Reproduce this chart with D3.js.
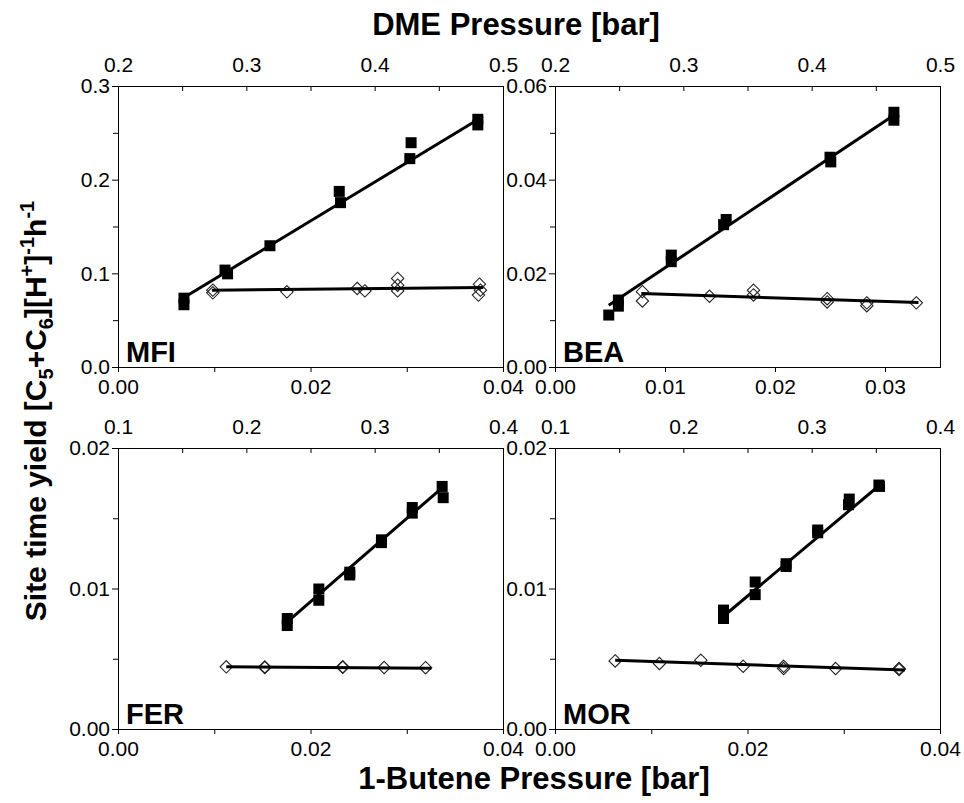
<!DOCTYPE html>
<html>
<head>
<meta charset="utf-8">
<script src="https://cdn.jsdelivr.net/npm/d3@7"></script>
<style>
  body { margin: 0; background: #fff; }
  svg { display: block; }
  text { font-family: "Liberation Sans", Arial, Helvetica, sans-serif; }
</style>
</head>
<body>
<svg id="chart" width="964" height="803"></svg>
<script>
// ---- Panels and axes ----
const panelNames = ["MFI", "BEA", "FER", "MOR"];

const dmeDomains = [[0.2, 0.5], [0.2, 0.5], [0.1, 0.4], [0.1, 0.4]];
const dmeTicks = [[0.2, 0.3, 0.4, 0.5], [0.2, 0.3, 0.4, 0.5], [0.1, 0.2, 0.3, 0.4], [0.1, 0.2, 0.3, 0.4]];
const dmeMinorTicks = [[0.25, 0.35, 0.45], [0.25, 0.35, 0.45], [0.15, 0.25, 0.35], [0.15, 0.25, 0.35]];

const buteneDomains = [[0, 0.04], [0, 0.035], [0, 0.04], [0, 0.04]];
const buteneTicks = [[0, 0.02, 0.04], [0, 0.01, 0.02, 0.03], [0, 0.02, 0.04], [0, 0.02, 0.04]];
const buteneMinorTicks = [[0.01, 0.03], [], [0.01, 0.03], [0.01, 0.03]];

const yieldDomains = [[0, 0.3], [0, 0.06], [0, 0.02], [0, 0.02]];
const yieldTicks = [[0, 0.1, 0.2, 0.3], [0, 0.02, 0.04, 0.06], [0, 0.01, 0.02], [0, 0.01, 0.02]];
const yieldMinorTicks = [[0.05, 0.15, 0.25], [0.01, 0.03, 0.05], [0.005, 0.015], [0.005, 0.015]];
const yieldFormats = [".1f", ".2f", ".2f", ".2f"];

// ---- Site time yield vs DME pressure (filled squares) ----
const mfiDme      = [0.251, 0.251, 0.283, 0.285, 0.318, 0.372, 0.373, 0.428, 0.427, 0.480, 0.480];
const mfiDmeYield = [0.074, 0.067, 0.104, 0.100, 0.130, 0.188, 0.176, 0.240, 0.223, 0.265, 0.259];
const beaDme      = [0.2415, 0.249, 0.249, 0.2902, 0.2902, 0.333, 0.331, 0.4139, 0.4145, 0.4637, 0.4637];
const beaDmeYield = [0.0112, 0.0144, 0.0131, 0.0240, 0.0226, 0.0316, 0.0305, 0.0449, 0.0439, 0.0545, 0.0528];
const ferDme      = [0.2315, 0.2315, 0.2561, 0.2561, 0.2802, 0.2802, 0.3049, 0.3049, 0.3289, 0.3289, 0.3522, 0.3530];
const ferDmeYield = [0.0079, 0.0074, 0.0100, 0.0092, 0.0112, 0.0110, 0.0135, 0.0133, 0.0158, 0.0154, 0.0173, 0.0165];
const morDme      = [0.2309, 0.2309, 0.2556, 0.2556, 0.2797, 0.2797, 0.3043, 0.3043, 0.3289, 0.3283, 0.3520, 0.3525];
const morDmeYield = [0.0085, 0.0079, 0.0105, 0.0096, 0.0118, 0.0116, 0.0142, 0.0140, 0.0164, 0.0160, 0.0174, 0.0173];

// Linear fits vs DME pressure (end points)
const mfiDmeFit = [[0.252, 0.0755], [0.484, 0.268]];
const beaDmeFit = [[0.2415, 0.0133], [0.4645, 0.0540]];
const ferDmeFit = [[0.2315, 0.00766], [0.3515, 0.01715]];
const morDmeFit = [[0.2309, 0.00806], [0.3541, 0.01751]];

// ---- Site time yield vs 1-butene pressure (open diamonds) ----
const mfiButene      = [0.0098, 0.0098, 0.0175, 0.0248, 0.0256, 0.0290, 0.0290, 0.0290, 0.0375, 0.0376, 0.0374];
const mfiButeneYield = [0.0826, 0.0797, 0.0808, 0.0844, 0.0818, 0.0951, 0.0879, 0.0818, 0.0890, 0.0826, 0.0773];
const beaButene      = [0.0079, 0.0079, 0.0140, 0.0180, 0.0180, 0.0247, 0.0247, 0.0283, 0.0283, 0.0328];
const beaButeneYield = [0.0162, 0.0142, 0.0152, 0.0165, 0.0155, 0.0147, 0.0140, 0.0138, 0.0132, 0.0138];
const ferButene      = [0.0112, 0.0152, 0.0152, 0.0233, 0.0233, 0.0276, 0.0319];
const ferButeneYield = [0.00446, 0.00441, 0.00445, 0.00446, 0.00443, 0.00441, 0.00440];
const morButene      = [0.0062, 0.0108, 0.0151, 0.0195, 0.0237, 0.0237, 0.0291, 0.0357, 0.0357];
const morButeneYield = [0.00488, 0.00470, 0.00493, 0.00450, 0.00450, 0.00434, 0.00434, 0.00434, 0.00427];

// Linear fits vs 1-butene pressure (end points)
const mfiButeneFit = [[0.0097, 0.0826], [0.0379, 0.0855]];
const beaButeneFit = [[0.0078, 0.0158], [0.0330, 0.0139]];
const ferButeneFit = [[0.0112, 0.00446], [0.0325, 0.00436]];
const morButeneFit = [[0.0062, 0.00493], [0.0363, 0.00423]];

const dmeSeries = [[mfiDme, mfiDmeYield], [beaDme, beaDmeYield], [ferDme, ferDmeYield], [morDme, morDmeYield]];
const dmeFits = [mfiDmeFit, beaDmeFit, ferDmeFit, morDmeFit];
const buteneSeries = [[mfiButene, mfiButeneYield], [beaButene, beaButeneYield], [ferButene, ferButeneYield], [morButene, morButeneYield]];
const buteneFits = [mfiButeneFit, beaButeneFit, ferButeneFit, morButeneFit];

// ---- Drawing ----
const svg = d3.select("#chart");
const colLeft = [118, 555];
const rowTop = [86, 448];
const W = 385, H = 281;
const tickFont = 21;

function styleAxis(g) {
  g.select(".domain").remove();
  g.attr("font-family", null).attr("font-size", null);
  g.selectAll("text")
    .attr("font-size", tickFont)
    .attr("fill", "#000");
  g.selectAll("line").attr("stroke", "#000");
}

panelNames.forEach((name, i) => {
  const left = colLeft[i % 2];
  const top = rowTop[Math.floor(i / 2)];
  const g = svg.append("g").attr("transform", `translate(${left},${top})`);

  const xB = d3.scaleLinear().domain(buteneDomains[i]).range([0, W]);
  const xD = d3.scaleLinear().domain(dmeDomains[i]).range([0, W]);
  const y = d3.scaleLinear().domain(yieldDomains[i]).range([H, 0]);

  // frame
  g.append("rect")
    .attr("x", 0.5).attr("y", 0.5)
    .attr("width", W).attr("height", H)
    .attr("fill", "none").attr("stroke", "#000").attr("stroke-width", 1);

  // bottom axis: 1-butene pressure
  g.append("g").attr("transform", `translate(0,${H})`)
    .call(d3.axisBottom(xB).tickValues(buteneTicks[i]).tickFormat(d3.format(".2f")).tickSize(5).tickPadding(7))
    .call(styleAxis);
  g.append("g").attr("transform", `translate(0,${H})`)
    .call(d3.axisBottom(xB).tickValues(buteneMinorTicks[i]).tickFormat("").tickSize(5))
    .call(styleAxis);

  // top axis: DME pressure (ticks point inward)
  g.append("g")
    .call(d3.axisTop(xD).tickValues(dmeTicks[i]).tickFormat(d3.format(".1f")).tickSize(-5).tickPadding(14))
    .call(styleAxis);
  g.append("g")
    .call(d3.axisTop(xD).tickValues(dmeMinorTicks[i]).tickFormat("").tickSize(-5))
    .call(styleAxis);

  // left axis: site time yield
  g.append("g")
    .call(d3.axisLeft(y).tickValues(yieldTicks[i]).tickFormat(d3.format(yieldFormats[i])).tickSize(6).tickPadding(2))
    .call(styleAxis);
  g.append("g")
    .call(d3.axisLeft(y).tickValues(yieldMinorTicks[i]).tickFormat("").tickSize(5))
    .call(styleAxis);

  // open diamonds vs 1-butene pressure
  const [bx, by] = buteneSeries[i];
  const r = 6.2;
  g.append("g").selectAll("path")
    .data(bx.map((v, k) => [v, by[k]]))
    .join("path")
    .attr("d", d => {
      const cx = xB(d[0]) + 0.5, cy = y(d[1]) + 0.5;
      return `M${cx},${cy - r}L${cx + r},${cy}L${cx},${cy + r}L${cx - r},${cy}Z`;
    })
    .attr("fill", "none").attr("stroke", "#222").attr("stroke-width", 1.1);

  // filled squares vs DME pressure
  const [dx, dy] = dmeSeries[i];
  const s = 11;
  g.append("g").selectAll("rect")
    .data(dx.map((v, k) => [v, dy[k]]))
    .join("rect")
    .attr("x", d => xD(d[0]) + 0.5 - s / 2)
    .attr("y", d => y(d[1]) + 0.5 - s / 2)
    .attr("width", s).attr("height", s)
    .attr("fill", "#000");

  // fit lines
  const lineB = d3.line().x(d => xB(d[0]) + 0.5).y(d => y(d[1]) + 0.5);
  const lineD = d3.line().x(d => xD(d[0]) + 0.5).y(d => y(d[1]) + 0.5);
  g.append("path").attr("d", lineB(buteneFits[i]))
    .attr("fill", "none").attr("stroke", "#000").attr("stroke-width", 3);
  g.append("path").attr("d", lineD(dmeFits[i]))
    .attr("fill", "none").attr("stroke", "#000").attr("stroke-width", 3);

  // panel name
  g.append("text")
    .attr("x", 8).attr("y", H - 5)
    .attr("font-size", 29).attr("font-weight", "bold")
    .text(name);
});

// axis titles
svg.append("text")
  .attr("x", 516).attr("y", 35)
  .attr("text-anchor", "middle")
  .attr("font-size", 31).attr("font-weight", "bold")
  .text("DME Pressure [bar]");

svg.append("text")
  .attr("x", 534).attr("y", 789)
  .attr("text-anchor", "middle")
  .attr("font-size", 31).attr("font-weight", "bold")
  .text("1-Butene Pressure [bar]");

const yTitle = svg.append("text")
  .attr("transform", "translate(46,411) rotate(-90)")
  .attr("text-anchor", "middle")
  .attr("font-size", 30).attr("font-weight", "bold");
const parts = [
  ["Site time yield [C", 0, null],
  ["5", 7, 20],
  ["+C", -7, null],
  ["6", 7, 20],
  ["][H", -7, null],
  ["+", -12, 20],
  ["]", 12, null],
  ["-1", -12, 20],
  ["h", 12, null],
  ["-1", -12, 20]
];
parts.forEach(([t, d, fs]) => {
  const sp = yTitle.append("tspan").attr("dy", d).text(t);
  if (fs) sp.attr("font-size", fs);
});
</script>
</body>
</html>
